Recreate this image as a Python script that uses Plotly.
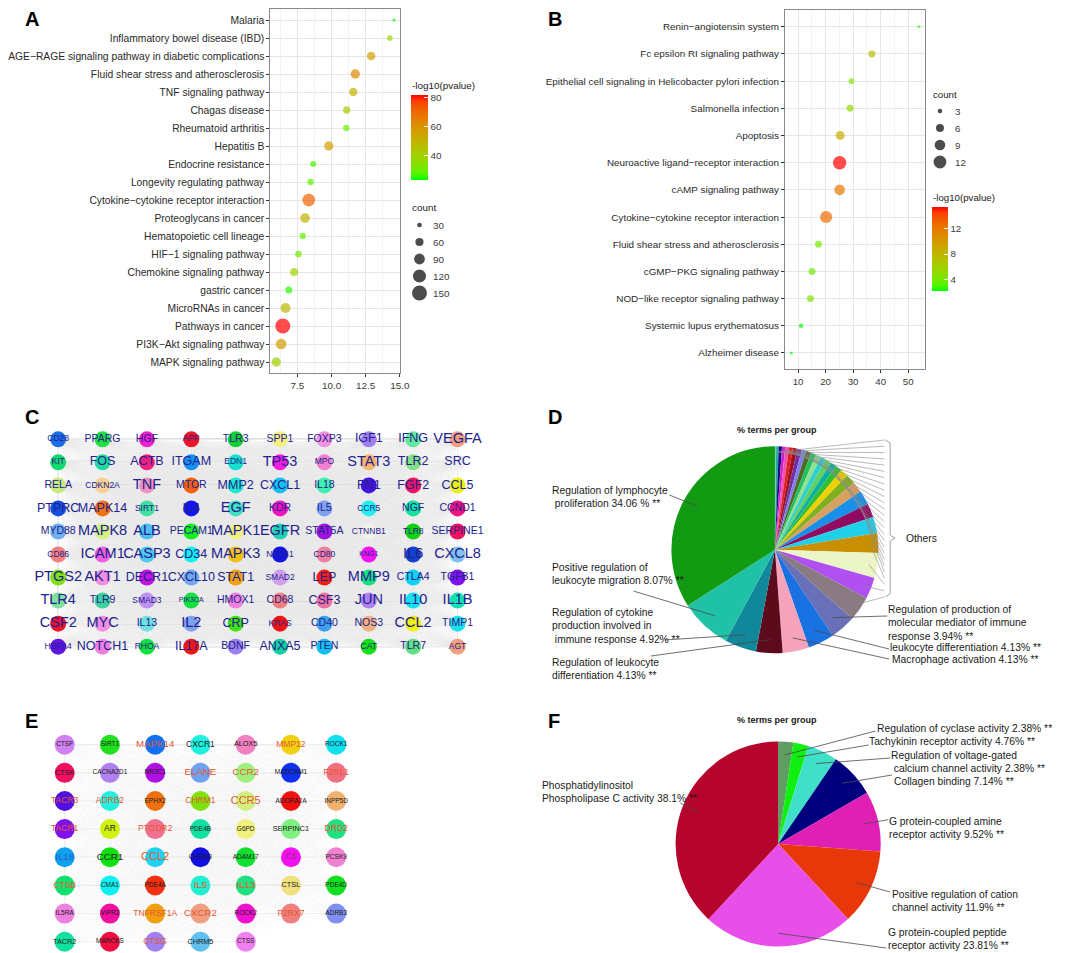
import numpy as np
import plotly.graph_objects as go

W, H = 1065, 953
FONT = "Liberation Sans, Arial, Helvetica, sans-serif"

# ---------------- Panel A data ----------------
a_terms = ["Malaria", "Inflammatory bowel disease (IBD)",
           "AGE\u2212RAGE signaling pathway in diabetic complications",
           "Fluid shear stress and atherosclerosis", "TNF signaling pathway", "Chagas disease",
           "Rheumatoid arthritis", "Hepatitis B", "Endocrine resistance", "Longevity regulating pathway",
           "Cytokine\u2212cytokine receptor interaction", "Proteoglycans in cancer",
           "Hematopoietic cell lineage", "HIF\u22121 signaling pathway", "Chemokine signaling pathway",
           "gastric cancer", "MicroRNAs in cancer", "Pathways in cancer",
           "PI3K\u2212Akt signaling pathway", "MAPK signaling pathway"]
a_x = [14.58, 14.27, 12.90, 11.74, 11.59, 11.11, 11.08, 9.80, 8.66, 8.47,
       8.33, 8.06, 7.89, 7.58, 7.26, 6.87, 6.63, 6.43, 6.31, 5.95]
a_count = [20, 37, 65, 72, 61, 51, 43, 72, 40, 43, 115, 76, 43, 46, 58, 49, 80, 150, 89, 72]
a_logp = [23.0, 36, 55, 62, 50, 42, 30, 56, 26, 28, 72, 50, 28, 31, 38, 25, 48, 81.6, 57, 40]
a_count_breaks = [30, 60, 90, 120, 150]
a_logp_breaks = [40, 60, 80]

# ---------------- Panel B data ----------------
b_terms = ["Renin\u2212angiotensin system", "Fc epsilon RI signaling pathway",
           "Epithelial cell signaling in Helicobacter pylori infection", "Salmonella infection",
           "Apoptosis", "Neuroactive ligand\u2212receptor interaction", "cAMP signaling pathway",
           "Cytokine\u2212cytokine receptor interaction", "Fluid shear stress and atherosclerosis",
           "cGMP\u2212PKG signaling pathway", "NOD\u2212like receptor signaling pathway",
           "Systemic lupus erythematosus", "Alzheimer disease"]
b_x = [53.9, 36.8, 29.4, 28.9, 25.3, 25.1, 25.1, 20.2, 17.4, 15.1, 14.5, 11.1, 7.57]
b_count = [2, 5, 4, 5, 7, 13, 9, 11, 5, 5, 5, 3, 2]
b_logp = [2.8, 7.2, 4.3, 5.2, 8.5, 15.4, 12.0, 12.6, 4.0, 3.8, 4.4, 2.4, 2.2]
b_count_breaks = [3, 6, 9, 12]
b_logp_breaks = [4, 8, 12]

# ---------------- Panel C data (PPI network, 10 per row) ----------------
c_genes = ["CD28", "PPARG", "HGF", "APP", "TLR3", "SPP1", "FOXP3", "IGF1", "IFNG", "VEGFA",
           "KIT", "FOS", "ACTB", "ITGAM", "EDN1", "TP53", "MPO", "STAT3", "TLR2", "SRC",
           "RELA", "CDKN2A", "TNF", "MTOR", "MMP2", "CXCL1", "IL18", "FN1", "FGF2", "CCL5",
           "PTPRC", "MAPK14", "SIRT1", "IL4", "EGF", "KDR", "IL5", "CCR5", "NGF", "CCND1",
           "MYD88", "MAPK8", "ALB", "PECAM1", "MAPK1", "EGFR", "STAT5A", "CTNNB1", "TLR8", "SERPINE1",
           "CD86", "ICAM1", "CASP3", "CD34", "MAPK3", "NFKB1", "CD80", "KNG1", "IL6", "CXCL8",
           "PTGS2", "AKT1", "DECR1", "CXCL10", "STAT1", "SMAD2", "LEP", "MMP9", "CTLA4", "TGFB1",
           "TLR4", "TLR9", "SMAD3", "PIK3CA", "HMOX1", "CD68", "CSF3", "JUN", "IL10", "IL1B",
           "CSF2", "MYC", "IL13", "IL2", "CRP", "KRAS", "CD40", "NOS3", "CCL2", "TIMP1",
           "HSPA4", "NOTCH1", "RHOA", "IL17A", "BDNF", "ANXA5", "PTEN", "CAT", "TLR7", "AGT"]
c_level = [2, 3, 3, 2, 3, 3, 3, 4, 4, 5,
           2, 4, 4, 4, 2, 5, 2, 5, 4, 4,
           3, 2, 5, 3, 4, 4, 3, 4, 4, 4,
           4, 4, 2, 4, 5, 3, 3, 2, 3, 3,
           3, 5, 5, 3, 5, 5, 3, 2, 2, 3,
           2, 5, 5, 4, 5, 2, 2, 1, 5, 5,
           5, 5, 4, 4, 4, 2, 4, 5, 3, 3,
           5, 3, 2, 1, 3, 3, 4, 5, 5, 5,
           5, 5, 3, 5, 4, 2, 3, 3, 5, 3,
           2, 4, 2, 4, 3, 4, 3, 2, 3, 2]
c_colors = ['#1a6ee8', '#1ee040', '#f020d0', '#f01428', '#14d034', '#f2f080', '#f090e0', '#a080f0', '#64e8a0', '#f0a080',
            '#14d870', '#20d8a0', '#f02080', '#1490f0', '#14e0d0', '#f020e0', '#f080d0', '#f8b470', '#84e084', '#eeeef4',
            '#c4e884', '#f8d094', '#f090c0', '#f06014', '#20e8d0', '#14c0f0', '#40f0b0', '#4414e0', '#f01464', '#e8f014',
            '#1450e0', '#f07014', '#40e0a0', '#1414f0', '#40e0c0', '#f014c0', '#80a0f0', '#20f0f0', '#14e0a0', '#f01480',
            '#70b0f0', '#d4f084', '#50c0f0', '#14f020', '#f2f084', '#20d0b0', '#a014e0', '#f2f2ec', '#14d014', '#f01460',
            '#f08080', '#f060e0', '#50c8f0', '#14f0f0', '#f0c014', '#1414e0', '#f080a0', '#f014f0', '#1440d0', '#80c0f0',
            '#80e014', '#f090e0', '#c014e0', '#70a8f0', '#f0a014', '#d0a0f0', '#f02014', '#14e080', '#14d0f0', '#8014f0',
            '#80e0a0', '#40d0a0', '#c090f0', '#14e040', '#f080e0', '#f08080', '#f070a0', '#b080f0', '#14e0f0', '#14e0b0',
            '#f01430', '#f090e0', '#70e0e0', '#80a0f0', '#40e014', '#f01414', '#40a0f0', '#f0b080', '#f0f014', '#20e0f0',
            '#6014e0', '#f080e0', '#14e040', '#f01414', '#a080f0', '#14d0a0', '#14c0f0', '#14e014', '#60e080', '#f0a080']

# ---------------- Panel D data (GO BP pie, counter-clockwise from 12 o'clock) ----------------
d_values = [34.06, 8.07, 4.92, 4.13, 4.13, 4.13, 3.94,
            3.9, 3.3, 3.9, 3.1, 2.5, 2.2, 2.2, 1.7, 1.5, 1.2,
            1.0, 1.0, 0.9, 0.9, 0.8, 0.8, 0.8, 0.7, 0.7, 0.7, 0.6, 0.6, 0.5, 0.5, 0.4, 0.2]
d_colors = ['#119a12', '#1fc2a6', '#10879a', '#5c0a1c', '#f5a3ba', '#1a72e2', '#6a70b8',
            '#8a7a82', '#b050f0', '#ecf5c6', '#c89000', '#20d0e8', '#900a62', '#1890e8', '#d8a060', '#80b020', '#f0d000',
            '#30c030', '#10b0a0', '#60d060', '#30d0d0', '#90e090', '#20c060', '#506a20', '#8080f0', '#7030a0',
            '#a01020', '#e02020', '#f050b0', '#d020d0', '#101080', '#20a8a0', '#60d0c0']
d_labels = ["Regulation of lymphocyte<br>\u00a0proliferation 34.06 % **",
            "Positive regulation of<br>leukocyte migration 8.07% **",
            "Regulation of cytokine<br>production involved in<br>\u00a0immune response 4.92% **",
            "Regulation of leukocyte<br>differentiation 4.13% **",
            "Regulation of production of<br>molecular mediator of immune<br>response 3.94% **",
            "leukocyte differentiation 4.13% **",
            "Macrophage activation 4.13% **"]
d_label_slice = [0, 1, 2, 3, 6, 5, 4]
d_n_named = 7

# ---------------- Panel E data (network, 7 per row) ----------------
e_genes = ["CTSF", "SIRT1", "MAPK14", "CXCR1", "ALOX5", "MMP12", "ROCK1",
           "CTSK", "CACNA2D1", "NR3C1", "ELANE", "CCR2", "MADCAM1", "F2RL1",
           "TACR3", "ADRB2", "EPHX2", "CHRM1", "CCR5", "ADORA2A", "INPP5D",
           "TACR1", "AR", "PTGDR2", "PDE4B", "G6PD", "SERPINC1", "DRD2",
           "IL18", "CCR1", "CCL2", "CHRM3", "ADAM17", "C5", "PCSK9",
           "CTSB", "CMA1", "PDE4A", "IL5", "IL13", "CTSL", "PDE4D",
           "IL5RA", "VIPR2", "TNFRSF1A", "CXCR2", "ROCK2", "P2RX7", "ADRB3",
           "TACR2", "MARCKS", "CTSG", "CHRM5", "CTSS"]
e_level = [1, 1, 4, 3, 2, 3, 1,
           2, 1, 1, 4, 4, 1, 3,
           3, 3, 1, 3, 5, 1, 1,
           3, 3, 3, 1, 1, 2, 3,
           4, 4, 5, 1, 1, 3, 1,
           3, 1, 1, 4, 4, 2, 1,
           1, 1, 3, 4, 1, 3, 1,
           2, 1, 3, 2, 1]
e_kind = ["k", "k", "r", "k", "k", "r", "k",
          "k", "k", "k", "r", "r", "k", "r",
          "r", "r", "k", "r", "r", "k", "k",
          "r", "k", "r", "k", "k", "k", "r",
          "b", "k", "r", "k", "k", "m", "k",
          "r", "k", "k", "r", "r", "k", "k",
          "k", "k", "r", "r", "k", "r", "k",
          "k", "k", "r", "k", "k"]
e_colors = ['#d080f0', '#20e020', '#1070f0', '#20f0e0', '#f080c0', '#f0d010', '#10e0f0',
            '#f01060', '#b080f0', '#b010e0', '#70a0f0', '#a0f080', '#1030f0', '#f07080',
            '#5010e0', '#20f0e0', '#f07010', '#80e010', '#d0f080', '#f01010', '#f0b070',
            '#8010f0', '#d0f010', '#f07090', '#10e0a0', '#f0f080', '#80f080', '#20e080',
            '#10a0f0', '#10e010', '#20d0f0', '#1010e0', '#10e030', '#f010f0', '#f080d0',
            '#10e070', '#10f0f0', '#f03010', '#20f0d0', '#20e080', '#f0e080', '#10e020',
            '#f080e0', '#f010a0', '#f0a010', '#f0a080', '#f010d0', '#f08080', '#8090f0',
            '#10e0a0', '#f01040', '#a080f0', '#60c0f0', '#f080f0']

# ---------------- Panel F data (GO MF pie, counter-clockwise from 12 o'clock) ----------------
f_values = [38.1, 23.81, 11.9, 9.52, 7.14, 4.76, 2.38, 2.38]
f_colors = ['#b5052c', '#e84ee8', '#e8380a', '#e020b4', '#00007f', '#40e0c8', '#10f010', '#5f9e62']
f_labels = ["Phosphatidylinositol<br>Phospholipase C activity 38.1% **",
            "G protein-coupled peptide<br>receptor activity 23.81% **",
            "Positive regulation of cation<br>channel activity 11.9% **",
            "G protein-coupled amine<br>receptor activity 9.52% **",
            "Collagen binding 7.14% **",
            "Regulation of voltage-gated<br>\u00a0calcium channel activity 2.38% **",
            "Tachykinin receptor activity 4.76% **",
            "Regulation of cyclase activity 2.38% **"]
f_label_slice = [0, 1, 2, 3, 4, 5, 6, 7]

# =============== helpers ===============
def X(px):
    return px / W


def Y(py):
    return 1 - py / H


M = np.array([[0.4124564, 0.3575761, 0.1804375],
              [0.2126729, 0.7151522, 0.0721750],
              [0.0193339, 0.1191920, 0.9503041]])
WHITE = np.array([0.95047, 1.0, 1.08883])


def rgb2lab(rgb):
    c = np.array(rgb, float) / 255.0
    lin = np.where(c <= 0.04045, c / 12.92, ((c + 0.055) / 1.055) ** 2.4)
    xyz = M @ lin / WHITE
    f = np.where(xyz > 0.008856, np.cbrt(xyz), 7.787 * xyz + 16 / 116)
    return np.array([116 * f[1] - 16, 500 * (f[0] - f[1]), 200 * (f[1] - f[2])])


def lab2rgb(lab):
    L, a, b = lab
    fy = (L + 16) / 116
    f = np.array([fy + a / 500, fy, fy - b / 200])
    xyz = np.where(f ** 3 > 0.008856, f ** 3, (f - 16 / 116) / 7.787) * WHITE
    lin = np.clip(np.linalg.solve(M, xyz), 0, 1)
    s = np.where(lin <= 0.0031308, 12.92 * lin, 1.055 * lin ** (1 / 2.4) - 0.055)
    return tuple(int(round(v * 255)) for v in np.clip(s, 0, 1))


def gg_scale(low, high, n=15):
    l0, l1 = rgb2lab(low), rgb2lab(high)
    return [[i / (n - 1), 'rgb(%d,%d,%d)' % lab2rgb(l0 + (l1 - l0) * i / (n - 1))] for i in range(n)]


GG = gg_scale((0, 255, 0), (255, 0, 0))


def size_map(vals, lo, hi, dmin, dmax):
    v = np.sqrt(np.asarray(vals, float))
    return (dmin + (v - np.sqrt(lo)) / (np.sqrt(hi) - np.sqrt(lo)) * (dmax - dmin)).tolist()


def pad_range(v, f=0.05):
    lo, hi = min(v), max(v)
    d = (hi - lo) * f
    return [lo - d, hi + d]


def slice_point(values, i, frac, cx, cy, r):
    # slice i, counter-clockwise from 12 o'clock
    v = np.asarray(values, float)
    tot = v.sum()
    mid = (v[:i].sum() + v[i] / 2) / tot * 2 * np.pi
    return cx - frac * r * np.sin(mid), cy - frac * r * np.cos(mid)


shapes = []
annots = []


def text(x, y, s, size, color='#1a1a1a', xanchor='left', yanchor='middle', bold=False):
    annots.append(dict(x=x, y=y, xref='x5', yref='y5', text=('<b>%s</b>' % s) if bold else s,
                       showarrow=False, xanchor=xanchor, yanchor=yanchor, align='left', borderpad=0,
                       font=dict(size=size, color=color, family=FONT)))


def seg(x0, y0, x1, y1, color='#555555', width=0.8):
    shapes.append(dict(type='line', xref='x5', yref='y5', x0=x0, y0=y0, x1=x1, y1=y1,
                       line=dict(color=color, width=width), layer='above'))


fig = go.Figure()

# =============== Panel A ===============
A_DMIN, A_DMAX = 3.2, 15.0
fig.add_trace(go.Scatter(
    x=a_x, y=a_terms, xaxis='x', yaxis='y', mode='markers', hoverinfo='skip',
    marker=dict(size=size_map(a_count, min(a_count), max(a_count), A_DMIN, A_DMAX),
                color=a_logp, colorscale=GG, cmin=min(a_logp), cmax=max(a_logp), line=dict(width=0),
                showscale=True,
                colorbar=dict(x=X(397), xanchor='left', y=Y(129.5), yanchor='middle', len=85, lenmode='pixels',
                              thickness=17, thicknessmode='pixels', xpad=0, ypad=0, outlinewidth=0,
                              ticks='inside', ticklen=4, tickcolor='white', tickvals=a_logp_breaks,
                              tickfont=dict(size=9.9, color='#3a3a3a', family=FONT)))))
text(397, 77.5, '-log10(pvalue)', 9.9)
text(397, 199, 'count', 9.9)
ya_leg = [217, 234, 251, 268, 285]
fig.add_trace(go.Scatter(x=[406] * len(a_count_breaks), y=ya_leg, xaxis='x5', yaxis='y5', mode='markers',
                         hoverinfo='skip', marker=dict(color='black', line=dict(width=0),
                         size=size_map(a_count_breaks, min(a_count), max(a_count), A_DMIN, A_DMAX))))
for yy, v in zip(ya_leg, a_count_breaks):
    text(419, yy, str(v), 9.9, '#3a3a3a')

# =============== Panel B ===============
B_DMIN, B_DMAX = 3.0, 13.5
fig.add_trace(go.Scatter(
    x=b_x, y=b_terms, xaxis='x2', yaxis='y2', mode='markers', hoverinfo='skip',
    marker=dict(size=size_map(b_count, min(b_count), max(b_count), B_DMIN, B_DMAX),
                color=b_logp, colorscale=GG, cmin=min(b_logp), cmax=max(b_logp), line=dict(width=0),
                showscale=True,
                colorbar=dict(x=X(931), xanchor='left', y=Y(241), yanchor='middle', len=84, lenmode='pixels',
                              thickness=16, thicknessmode='pixels', xpad=0, ypad=0, outlinewidth=0,
                              ticks='inside', ticklen=4, tickcolor='white', tickvals=b_logp_breaks,
                              tickfont=dict(size=9.7, color='#3a3a3a', family=FONT)))))
text(931, 189, '-log10(pvalue)', 9.7)
text(931, 86, 'count', 9.7)
yb_leg = [103, 120, 137, 154]
fig.add_trace(go.Scatter(x=[939] * len(b_count_breaks), y=yb_leg, xaxis='x5', yaxis='y5', mode='markers',
                         hoverinfo='skip', marker=dict(color='black', line=dict(width=0),
                         size=size_map(b_count_breaks, min(b_count), max(b_count), B_DMIN, B_DMAX))))
for yy, v in zip(yb_leg, b_count_breaks):
    text(953, yy, str(v), 9.7, '#3a3a3a')


# =============== Networks (C and E) ===============
def network(genes, ncol, level_px, node_px, colors, text_colors, xa, ya, mesh_color, neighbor_color=None):
    n = len(genes)
    col = (np.arange(n) % ncol).astype(float)
    row = (np.arange(n) // ncol).astype(float)
    ex, ey = [], []
    for i in range(n):
        for j in range(i + 1, n):
            ex += [col[i], col[j], None]
            ey += [row[i], row[j], None]
    fig.add_trace(go.Scatter(x=ex, y=ey, xaxis=xa, yaxis=ya, mode='lines', hoverinfo='skip',
                             cliponaxis=False, line=dict(color=mesh_color, width=0.3)))
    if neighbor_color:
        nx, ny = [], []
        for i in range(n - 1):
            if row[i] == row[i + 1]:
                nx += [col[i], col[i + 1], None]
                ny += [row[i], row[i + 1], None]
        fig.add_trace(go.Scatter(x=nx, y=ny, xaxis=xa, yaxis=ya, mode='lines', hoverinfo='skip',
                                 cliponaxis=False, line=dict(color=neighbor_color, width=0.6)))
    fig.add_trace(go.Scatter(x=col, y=row, xaxis=xa, yaxis=ya, mode='markers+text', hoverinfo='skip',
                             cliponaxis=False, text=genes, textposition='middle center',
                             textfont=dict(family=FONT, size=level_px, color=text_colors),
                             marker=dict(size=node_px, color=colors, line=dict(width=0))))


c_px = {1: 7, 2: 8.5, 3: 10.5, 4: 12.5, 5: 14.5}
network(c_genes, 10, [c_px[v] for v in c_level], 16, c_colors, ['#22228c'] * len(c_genes),
        'x3', 'y3', '#ebebeb')
e_px = {1: 6.5, 2: 7.3, 3: 8.5, 4: 9.7, 5: 11}
kind_color = {'k': '#1a1a1a', 'r': '#e4572e', 'b': '#2060c0', 'm': '#9a2a7a'}
network(e_genes, 7, [e_px[v] for v in e_level], 20, e_colors, [kind_color[k] for k in e_kind],
        'x4', 'y4', '#f5f5f5', '#e6e6e6')

# =============== Pies (D and F) ===============
# plotly draws clockwise from 12 o'clock; feeding the slices reversed reproduces
# the counter-clockwise order of the reference.
D_CX, D_CY, D_R = 770, 541.7, 106
F_CX, F_CY, F_R = 773.3, 836, 105
for vals, cols, cx, cy, r in [(d_values, d_colors, D_CX, D_CY, D_R), (f_values, f_colors, F_CX, F_CY, F_R)]:
    fig.add_trace(go.Pie(values=vals[::-1], marker=dict(colors=cols[::-1], line=dict(width=0)), sort=False,
                         direction='clockwise', rotation=0, textinfo='none', hoverinfo='skip',
                         domain=dict(x=[X(cx - r), X(cx + r)], y=[Y(cy + r), Y(cy - r)]), showlegend=False))

text(772, 421.7, '% terms per group', 9, xanchor='center', bold=True)
text(772.3, 711.7, '% terms per group', 9, xanchor='center', bold=True)

# D labels
d_text_pos = [(540.7, 489), (540.7, 566.3), (541, 617.7), (541, 661.3), (885, 615.4), (887.3, 639.3), (889, 651)]
d_line_start = [(662, 487), (625, 583), (657, 632), (643, 648), (885, 608), (887, 641), (887, 651)]
for s, k, (tx, ty), (lx, ly) in zip(d_labels, d_label_slice, d_text_pos, d_line_start):
    text(tx, ty, s, 10.3)
    px_, py_ = slice_point(d_values, k, 0.85, D_CX, D_CY, D_R)
    seg(lx, ly, px_, py_, '#4a4a4a', 0.8)

# D "Others" fan + brace
others = list(range(d_n_named, len(d_values)))
top, bot = 432, 589
for rank, k in enumerate(others):
    px_, py_ = slice_point(d_values, k, 0.92, D_CX, D_CY, D_R)
    ty = bot - rank * (bot - top) / (len(others) - 1)
    seg(px_, py_, 882, ty, '#8c8c8c', 0.6)
seg(883, top, 888, top + 3, '#8c8c8c', 0.8)
seg(888, top + 3, 888, 527, '#8c8c8c', 0.8)
seg(888, 527, 893, 530, '#8c8c8c', 0.8)
seg(893, 530, 888, 533, '#8c8c8c', 0.8)
seg(888, 533, 888, bot - 3, '#8c8c8c', 0.8)
seg(888, bot - 3, 883, bot, '#8c8c8c', 0.8)
text(903, 530, 'Others', 10.3)

# F labels
f_text_pos = [(530.5, 783.7), (884.3, 931), (889, 892.5), (886, 819.7), (890.7, 773.7), (888.3, 754.3),
              (865, 733.3), (874, 720)]
f_line_start = [(673, 795), (884, 940), (888, 884), (886, 811.7), (890, 767), (888, 750), (866, 737), (873, 723)]
for s, k, (tx, ty), (lx, ly) in zip(f_labels, f_label_slice, f_text_pos, f_line_start):
    text(tx, ty, s, 10.3)
    px_, py_ = slice_point(f_values, k, 0.85, F_CX, F_CY, F_R)
    seg(lx, ly, px_, py_, '#4a4a4a', 0.8)

# panel letters
for letter, lx, ly in [('A', 1.5, 10.5), ('B', 537, 10.5), ('C', 1.5, 408.5), ('D', 537, 408.5),
                       ('E', 1.5, 713), ('F', 537, 712.5)]:
    text(lx, ly, letter, 20, '#000000', bold=True)


# =============== layout ===============
def gx(dtick, minor, fmt, fs):
    return dict(dtick=dtick, tick0=0, tickformat=fmt, showgrid=True, gridcolor='#e6e6e6', gridwidth=1,
                minor=dict(dtick=minor, tick0=0, showgrid=True, gridcolor='#f3f3f3', gridwidth=0.6),
                showline=True, mirror=True, linecolor='#8a8a8a', linewidth=1, ticks='outside', ticklen=3,
                tickcolor='#333333', tickwidth=1, tickfont=dict(size=fs, color='#3a3a3a', family=FONT),
                zeroline=False, fixedrange=True)


def gy(fs):
    return dict(showgrid=True, gridcolor='#e6e6e6', gridwidth=1, showline=True, mirror=True,
                linecolor='#8a8a8a', linewidth=1, ticks='outside', ticklen=3, tickcolor='#333333', tickwidth=1,
                tickfont=dict(size=fs, color='#2a2a2a', family=FONT), zeroline=False, fixedrange=True)


fig.update_layout(
    width=W, height=H, margin=dict(l=0, r=0, t=0, b=0), paper_bgcolor='white',
    plot_bgcolor='rgba(0,0,0,0)', showlegend=False, hovermode=False,
    font=dict(family=FONT, color='#222222'),
    xaxis=dict(domain=[X(253.3), X(386)], anchor='y', range=pad_range(a_x), **gx(2.5, 1.25, '.1f', 9.9)),
    yaxis=dict(domain=[Y(364.8), Y(1.2)], anchor='x', type='category', categoryorder='array',
               categoryarray=a_terms, range=[len(a_terms) - 0.4, -0.6], **gy(10.3)),
    xaxis2=dict(domain=[X(780.3), X(924)], anchor='y2', range=pad_range(b_x), **gx(10, 5, 'd', 9.7)),
    yaxis2=dict(domain=[Y(361.3), Y(2.4)], anchor='x2', type='category', categoryorder='array',
                categoryarray=b_terms, range=[len(b_terms) - 0.4, -0.6], **gy(9.9)),
    xaxis3=dict(domain=[X(13.3), X(467.7)], anchor='y3', range=[-0.5, 9.5], visible=False, fixedrange=True),
    yaxis3=dict(domain=[Y(650.2), Y(419.8)], anchor='x3', range=[9.5, -0.5], visible=False, fixedrange=True),
    xaxis4=dict(domain=[X(19.5), X(343.9)], anchor='y4', range=[-0.5, 6.5], visible=False, fixedrange=True),
    yaxis4=dict(domain=[Y(947.8), Y(722.6)], anchor='x4', range=[7.5, -0.5], visible=False, fixedrange=True),
    xaxis5=dict(domain=[0, 1], anchor='y5', range=[0, W], visible=False, fixedrange=True),
    yaxis5=dict(domain=[0, 1], anchor='x5', range=[H, 0], visible=False, fixedrange=True),
    shapes=shapes, annotations=annots,
)

fig.write_html("out.html", config={'displayModeBar': False})
